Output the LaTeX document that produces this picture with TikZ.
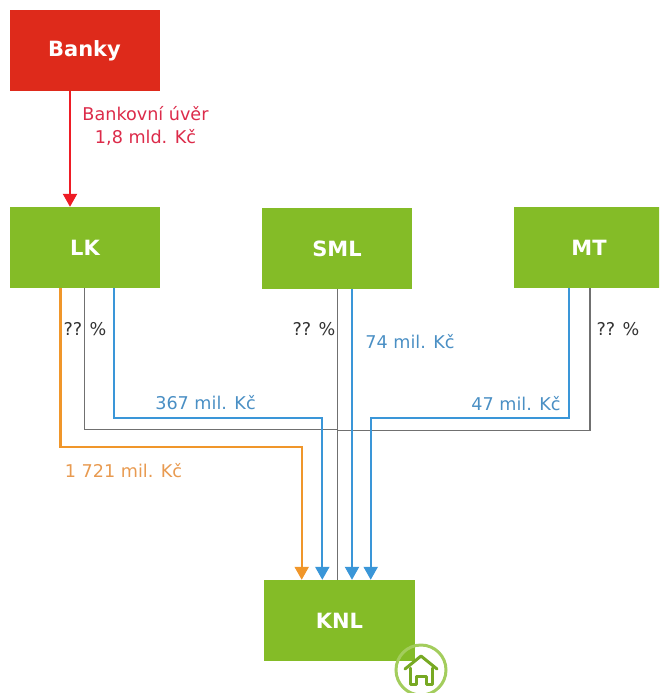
\documentclass[tikz,border=0pt]{standalone}
\usepackage{fontspec}
\setmainfont{DejaVu Sans}
\usetikzlibrary{arrows.meta}
\definecolor{boxgreen}{HTML}{84BC27}
\definecolor{boxred}{HTML}{DE2A1B}
\definecolor{arrred}{HTML}{EE1C25}
\definecolor{arrblue}{HTML}{3A96D8}
\definecolor{arrorange}{HTML}{F0962A}
\definecolor{txtred}{HTML}{DC2B4A}
\definecolor{txtblue}{HTML}{4A8FC4}
\definecolor{txtorange}{HTML}{E89A50}
\definecolor{linegray}{HTML}{707070}
\tikzset{
  box/.style={fill=boxgreen,text=white,font=\bfseries\fontsize{21}{25}\selectfont,minimum width=150pt,minimum height=81pt,inner sep=0pt},
  lab/.style={font=\fontsize{17.6}{23}\selectfont,inner sep=0pt,align=center},
  tipflow/.style={line width=2.2pt,-{Triangle[length=13pt,width=14pt]}},
  own/.style={linegray,line width=1.5pt},
}
\begin{document}
\begin{tikzpicture}[x=1pt,y=-1pt]
        \useasboundingbox (0,0) rectangle (659,693);
        \begin{scope}
        \clip (0,0) rectangle (659,693);
        \node[box] (MT) at (589,247.5) {MT};
        \end{scope}
        \node[box,fill=boxred] (Bank) at (84.5,50.5) {Banky};
        \node[box] (LK) at (85,247.5) {LK};
        \node[box] (SML) at (337,248.5) {SML};
        \node[box,minimum width=151pt] (KNL) at (339.5,620.5) {KNL};
        % ownership lines
        \draw[own] ([xshift=-0.5pt]LK.south) |- (337.7,429.5);
        \draw[own] ([xshift=1pt]MT.south) |- (337.7,430.5);
        \draw[own] ([xshift=0.7pt]SML.south) -- ([xshift=-1.8pt]KNL.north);
        % money flows
        \draw[tipflow,arrred] ([xshift=-14.5pt]Bank.south) -- ([xshift=-15pt]LK.north);
        \draw[tipflow,arrorange] ([xshift=-24.5pt]LK.south) -- ++(0,159) -| ([xshift=-37.8pt]KNL.north);
        \draw[tipflow,arrblue] ([xshift=28.7pt]LK.south) -- ++(0,130) -| ([xshift=-17.2pt]KNL.north);
        \draw[tipflow,arrblue] ([xshift=15pt]SML.south) -- ([xshift=12.5pt]KNL.north);
        \draw[tipflow,arrblue] ([xshift=-20pt]MT.south) -- ++(0,130) -| ([xshift=31.2pt]KNL.north);
        % labels
        \node[lab,text=txtred] (LabBank) at (145.5,126) {Bankovní úvěr\\1,8 mld. Kč};
        \node[lab,text=black!80] (LabLK) at (85,329) {?? \%};
        \node[lab,text=black!80] (LabSML) at (314,329) {?? \%};
        \node[lab,text=black!80] (LabMT) at (618,329) {?? \%};
        \node[lab,text=txtblue] (LabLKm) at (205.5,403) {367 mil. Kč};
        \node[lab,text=txtblue] (LabSMLm) at (410,342) {74 mil. Kč};
        \node[lab,text=txtblue] (LabMTm) at (516,404) {47 mil. Kč};
        \node[lab,text=txtorange] (LabLKo) at (123.5,471) {1 721 mil. Kč};
        % home icon
        \node[circle,draw=boxgreen!75,line width=3pt,minimum size=50pt,inner sep=0pt] (Home) at (421,670) {};
        \draw[boxgreen!90!black,line width=3pt,line join=round,line cap=round] (405,669) -- (421,656) -- (437,669);
        \draw[boxgreen!90!black,line width=3pt,line join=round,line cap=round] (410,668) -- (410,684) -- (416,684) -- (416,676) -- (426,676) -- (426,684) -- (432,684) -- (432,668);
\end{tikzpicture}
\end{document}
